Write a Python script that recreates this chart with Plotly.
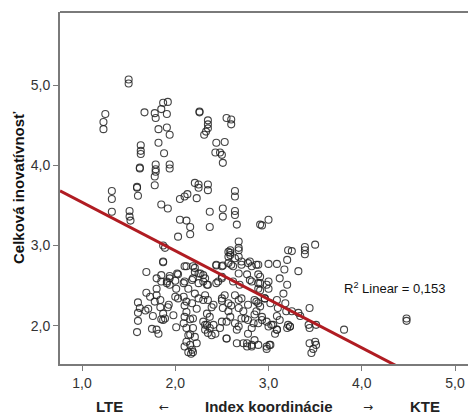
import plotly.graph_objects as go

# Index koordinácie (x) and Celková inovatívnosť (y)
index_koord = [
    1.50, 1.50, 1.25, 1.23, 1.23, 1.67, 1.78, 1.79, 1.85, 1.87, 1.92, 1.91, 1.82, 1.91, 1.94, 1.82, 1.88,
    1.63, 1.63, 1.63, 1.62, 1.62, 1.79, 1.79, 1.79, 1.78, 1.94, 1.94, 1.78, 1.59,
    2.26, 2.26, 2.35, 2.35, 2.35, 2.33, 2.31, 2.55, 2.60, 2.60, 2.44, 2.53, 2.43, 2.48, 2.50, 2.51,
    2.21, 2.25, 2.35,
    1.32, 1.32, 1.59, 1.60, 1.32, 1.51, 1.51, 1.52, 1.85, 1.92, 2.05, 2.10, 2.13, 2.23, 2.25, 2.35,
    2.05, 2.12, 2.16, 2.16, 2.03, 2.37, 2.37, 2.51, 2.51, 2.64, 2.64, 2.64, 2.64, 2.66,
    1.87, 1.87, 1.69, 1.85, 1.94, 2.03, 2.12, 2.21, 2.25, 2.30,
    2.68, 2.68, 2.59, 2.57, 2.64, 2.59, 2.44, 2.51, 2.60, 2.71, 2.78, 2.82, 2.89, 2.68, 2.77, 2.89, 2.50, 2.91,
    2.93, 3.00, 3.00, 3.09, 3.21, 3.25, 3.20, 3.17, 3.39, 3.39, 3.39, 3.50, 3.32, 2.91,
    1.69, 1.60, 1.62, 1.60, 1.60, 1.59, 1.68, 1.71, 1.80, 1.80, 1.78, 1.84, 1.87, 1.89, 1.85, 1.92,
    1.75, 1.80, 1.82, 2.01, 1.85, 1.91, 1.94, 2.00, 2.01, 2.00, 2.10, 2.14, 2.09, 2.10, 2.12, 2.10, 2.16,
    2.12, 2.14, 2.12, 2.16, 2.19, 2.21, 2.19, 2.19, 2.25, 2.21, 2.25, 2.23,
    2.32, 2.34, 2.32, 2.35, 2.39, 2.34, 2.30, 2.34, 2.37, 2.41, 2.32, 2.39, 2.43, 2.48,
    2.46, 2.53, 2.50, 2.51, 2.57, 2.60, 2.64, 2.71, 2.68, 2.73,
    2.55, 2.55, 2.64, 2.71, 2.78, 2.82, 2.78, 2.85, 2.77, 2.82, 2.73, 2.66,
    2.82, 2.89, 2.85, 2.91, 2.85, 2.10, 2.14, 2.17,
    2.89, 2.91, 2.98, 3.00, 2.96, 2.89, 2.87, 2.93, 2.89, 2.98, 3.00, 2.89, 3.01, 2.98,
    3.16, 3.18, 3.10, 3.19, 3.09, 3.05, 3.09, 3.07, 3.21, 3.23, 3.25, 3.32, 3.34, 3.44, 3.43, 3.44, 3.51,
    3.44, 3.50, 3.51, 3.48, 3.46, 3.81, 4.48, 4.48,
    1.89, 1.87, 2.02, 2.10, 2.19, 2.21, 2.27, 2.44, 2.50, 2.57, 2.62, 2.71, 2.80, 2.87,
    2.57, 2.59, 2.68, 2.68,
    1.80, 1.91, 1.94, 2.09, 2.18, 2.30, 2.35, 2.44, 2.50, 2.62, 2.69, 2.80, 2.91, 3.00, 3.12, 3.20,
    1.73, 1.84, 1.93, 2.03, 2.12, 2.18, 2.30, 2.41, 2.50, 2.57, 2.68, 2.78, 2.87, 2.96, 3.02, 3.09,
    1.76, 1.87, 1.98, 2.09, 2.19, 2.32, 2.37, 2.50, 2.59, 2.68, 2.75, 2.84, 2.93, 3.03, 3.12,
    2.16, 2.23, 2.18, 2.35, 2.55, 2.66, 2.77, 2.82, 2.98, 3.02, 3.09, 3.20, 3.23,
]
celkova_inov = [
    5.07, 5.02, 4.64, 4.54, 4.45, 4.66, 4.65, 4.59, 4.70, 4.78, 4.79, 4.64, 4.45, 4.47, 4.38, 4.28, 4.15,
    4.25, 4.18, 4.14, 3.96, 3.97, 4.01, 3.95, 3.92, 3.86, 4.01, 3.96, 3.75, 3.73,
    4.67, 4.66, 4.56, 4.51, 4.46, 4.42, 4.38, 4.59, 4.57, 4.51, 4.28, 4.29, 4.16, 4.16, 4.13, 4.03,
    3.78, 3.76, 3.76,
    3.68, 3.58, 3.72, 3.62, 3.42, 3.43, 3.36, 3.31, 3.51, 3.46, 3.58, 3.61, 3.64, 3.59, 3.72, 3.69,
    3.32, 3.31, 3.23, 3.14, 3.11, 3.42, 3.23, 3.46, 3.36, 3.68, 3.61, 3.43, 3.38, 3.26,
    3.00, 2.79, 2.67, 2.63, 2.62, 2.64, 2.74, 2.72, 2.65, 2.63,
    3.05, 2.97, 2.91, 2.86, 2.84, 2.94, 2.75, 2.75, 2.76, 2.76, 2.78, 2.74, 2.76, 2.65, 2.64, 2.64, 2.61, 3.26,
    3.25, 3.32, 2.77, 2.77, 2.94, 2.93, 2.82, 2.70, 2.98, 2.94, 2.89, 3.01, 2.68, 2.61,
    2.41, 2.29, 2.22, 2.16, 2.06, 1.92, 2.19, 2.21, 2.46, 2.38, 2.30, 2.23, 2.15, 2.09, 2.08, 2.23,
    1.96, 1.95, 1.90, 1.98, 2.55, 2.53, 2.59, 2.56, 2.46, 2.36, 2.55, 2.46, 2.36, 2.25, 2.17, 2.11, 2.08,
    1.97, 1.88, 1.80, 1.76, 1.67, 1.86, 1.97, 2.59, 2.53, 2.40, 2.34, 2.21,
    2.59, 2.51, 2.38, 2.32, 2.23, 2.15, 2.05, 2.01, 1.97, 2.01, 1.95, 1.88, 1.90, 1.97,
    2.55, 2.38, 2.31, 2.22, 2.18, 2.25, 2.38, 2.34, 2.22, 2.18,
    2.05, 1.84, 2.03, 2.09, 2.07, 1.97, 1.90, 1.82, 1.78, 1.74, 1.78, 1.95,
    2.55, 2.46, 2.32, 2.24, 2.14, 1.74, 1.67, 1.65,
    2.53, 2.44, 2.51, 2.46, 2.34, 2.28, 2.18, 2.07, 2.03, 2.05, 1.99, 1.76, 1.76, 1.71,
    2.40, 2.28, 2.22, 2.18, 2.12, 2.01, 1.95, 1.90, 2.01, 1.99, 2.18, 2.16, 2.12, 2.22, 2.01, 1.97, 2.01,
    1.78, 1.80, 1.76, 1.71, 1.66, 1.95, 2.09, 2.06,
    2.97, 2.80, 2.65, 2.74, 2.74, 2.67, 2.65, 2.76, 2.74, 2.78, 2.74, 2.80, 2.80, 2.76,
    2.92, 2.88, 2.94, 2.86,
    2.59, 2.55, 2.51, 2.53, 2.57, 2.55, 2.51, 2.53, 2.59, 2.55, 2.51, 2.57, 2.53, 2.55, 2.59, 2.51,
    2.36, 2.32, 2.26, 2.34, 2.30, 2.28, 2.32, 2.26, 2.34, 2.28, 2.32, 2.26, 2.30, 2.34, 2.28, 2.32,
    2.12, 2.07, 2.13, 2.03, 2.09, 2.01, 2.11, 2.05, 2.11, 1.99, 2.09, 2.03, 2.11, 2.01, 2.07,
    1.89, 1.78, 1.70, 1.91, 1.84, 1.78, 1.74, 1.76, 1.74, 1.76, 1.95, 1.97, 1.99,
]

# Linear fit shown in the chart (R² = 0,153)
fit_intercept = 4.144
fit_slope = -0.605
r2_label = "R<sup>2</sup> Linear = 0,153"

x_ticks = [1, 2, 3, 4, 5]
y_ticks = [2, 3, 4, 5]
x_range = [0.764, 5.139]
y_range = [1.522, 5.911]

FONT = "Liberation Sans, Arial, sans-serif"

fig = go.Figure()
fig.add_trace(go.Scatter(
    x=index_koord, y=celkova_inov, mode="markers",
    marker=dict(symbol="circle-open", size=7, color="rgba(35,35,35,0.85)",
                line=dict(width=1.1)),
    hoverinfo="x+y", showlegend=False,
))
fig.add_trace(go.Scatter(
    x=x_range, y=[fit_intercept + fit_slope * v for v in x_range],
    mode="lines", line=dict(color="#b01c22", width=3), showlegend=False,
))

fig.update_layout(
    width=468, height=414,
    margin=dict(l=60, r=0, t=12, b=50),
    paper_bgcolor="white", plot_bgcolor="white",
    separators=", ",
    font=dict(family=FONT, size=14, color="#333333"),
    xaxis=dict(range=x_range, tickvals=x_ticks, tickformat=".1f",
               showgrid=False, zeroline=False, showline=True,
               linecolor="#7a7a7a", linewidth=2, ticks="outside",
               ticklen=5, tickcolor="#7a7a7a", tickfont=dict(size=14, color="#333")),
    yaxis=dict(range=y_range, tickvals=y_ticks, tickformat=".1f",
               showgrid=False, zeroline=False, showline=True,
               linecolor="#7a7a7a", linewidth=2, ticks="outside",
               ticklen=5, tickcolor="#7a7a7a", tickfont=dict(size=14, color="#333")),
    shapes=[dict(type="line", xref="paper", yref="paper", x0=0, x1=1, y0=1, y1=1,
                 line=dict(color="#7a7a7a", width=2))],
)

ann = []
ann.append(dict(text=r2_label, xref="x", yref="y", x=3.788, y=2.47,
                xanchor="left", yanchor="middle", showarrow=False,
                font=dict(family=FONT, size=13, color="#111")))
ann.append(dict(text="<b>Celková inovatívnosť</b>", xref="paper", yref="paper",
                x=0, y=0.5, xshift=-42, textangle=-90, showarrow=False,
                xanchor="center", yanchor="middle",
                font=dict(family=FONT, size=15, color="#111")))
for txt, xv, bold in [("LTE", 1.29, True), ("←", 1.874, False),
                      ("Index koordinácie", 3.005, True), ("→", 4.07, False),
                      ("KTE", 4.68, True)]:
    ann.append(dict(text=f"<b>{txt}</b>" if bold else txt, xref="x", yref="paper",
                    x=xv, y=0, yshift=-42 if bold else -43, showarrow=False,
                    xanchor="center", yanchor="middle",
                    font=dict(family=FONT if bold else "DejaVu Sans", size=15 if bold else 12,
                              color="#222")))
fig.update_layout(annotations=ann)

fig.write_html("out.html", config={"displayModeBar": False},
               post_script="document.body.style.margin='0px';document.body.style.overflow='hidden';")
